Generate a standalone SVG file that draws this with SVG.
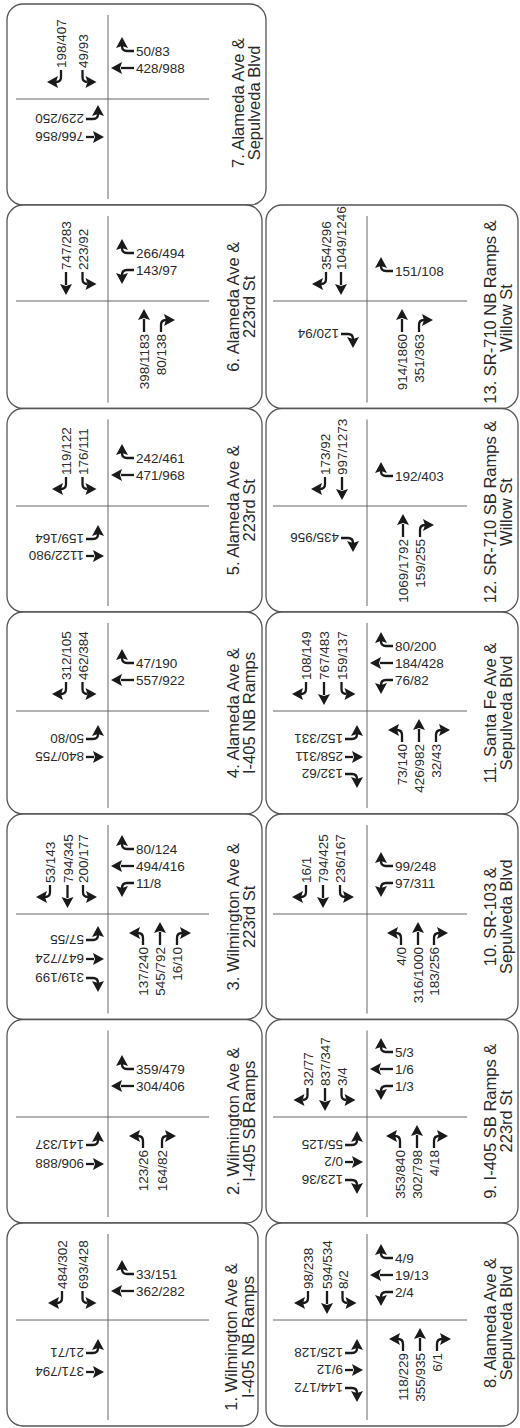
<svg xmlns="http://www.w3.org/2000/svg" xmlns:xlink="http://www.w3.org/1999/xlink" width="520" height="1428" viewBox="0 0 520 1428">
<style>
.pn{fill:#fff;stroke:#555;stroke-width:1.3}
.rd{stroke:#666;stroke-width:1}
.n{font-family:"Liberation Sans",Arial,Helvetica,sans-serif;font-size:13.5px;fill:#2a2a2a}
.ne{text-anchor:end}
.lb{font-family:"Liberation Sans",Arial,Helvetica,sans-serif;font-size:16.5px;fill:#2a2a2a;text-anchor:middle}
.al{stroke:#1a1a1a;stroke-width:2.3;fill:none}
.ah{fill:#1a1a1a}
</style>
<defs>
<g id="th"><path class="al" d="M0,0H13"/><polygon class="ah" points="12,-6 23,0 12,6 14,0"/></g>
<g id="ts"><path class="al" d="M0,0H8"/><polygon class="ah" points="7,-6 18,0 7,6 9,0"/></g>
<g id="tl"><path class="al" d="M0,0H7Q12,0 12,-5"/><polygon class="ah" points="6,-3 12,-14 18,-3 12,-5"/></g>
<g id="tr"><path class="al" d="M0,0H7Q12,0 12,5"/><polygon class="ah" points="6,3 12,14 18,3 12,5"/></g>
</defs>
<rect width="520" height="1428" fill="#fff"/>

<g id="p7">
<rect class="pn" x="7" y="4" width="259" height="201" rx="16"/>
<line class="rd" x1="108" y1="15" x2="108" y2="199"/>
<line class="rd" x1="16" y1="99" x2="209" y2="99"/>
<text class="n" transform="translate(66,68) rotate(-90)">198/407</text>
<use xlink:href="#tr" transform="translate(61,70) rotate(90)"/>
<text class="n" transform="translate(87.5,68) rotate(-90)">49/93</text>
<use xlink:href="#tl" transform="translate(82.5,70) rotate(90)"/>
<text class="n" x="136" y="56">50/83</text>
<use xlink:href="#tr" transform="translate(134,51) rotate(180)"/>
<text class="n" x="136" y="73">428/988</text>
<use xlink:href="#th" transform="translate(134,68) rotate(180)"/>
<text class="n" transform="translate(84,114) rotate(180)">229/250</text>
<use xlink:href="#tl" transform="translate(86,119)"/>
<text class="n" transform="translate(84,132) rotate(180)">766/856</text>
<use xlink:href="#ts" transform="translate(86,137)"/>
<text class="lb" transform="translate(244,103) rotate(-90)">7. Alameda Ave &amp;</text>
<text class="lb" transform="translate(260,103) rotate(-90)">Sepulveda Blvd</text>
</g>

<g id="p6">
<rect class="pn" x="7" y="205" width="255" height="203.5" rx="16"/>
<line class="rd" x1="108" y1="216" x2="108" y2="402.5"/>
<line class="rd" x1="16" y1="301" x2="209" y2="301"/>
<text class="n" transform="translate(71,270) rotate(-90)">747/283</text>
<use xlink:href="#th" transform="translate(66,272) rotate(90)"/>
<text class="n" transform="translate(87.5,270) rotate(-90)">223/92</text>
<use xlink:href="#tl" transform="translate(82.5,272) rotate(90)"/>
<text class="n" x="136" y="258">266/494</text>
<use xlink:href="#tr" transform="translate(134,253) rotate(180)"/>
<text class="n" x="136" y="275">143/97</text>
<use xlink:href="#tl" transform="translate(134,270) rotate(180)"/>
<text class="n ne" transform="translate(149,334) rotate(-90)">398/1183</text>
<use xlink:href="#th" transform="translate(144,332) rotate(-90)"/>
<text class="n ne" transform="translate(166,334) rotate(-90)">80/138</text>
<use xlink:href="#tr" transform="translate(161,332) rotate(-90)"/>
<text class="lb" transform="translate(239,306.75) rotate(-90)">6. Alameda Ave &amp;</text>
<text class="lb" transform="translate(255,306.75) rotate(-90)">223rd St</text>
</g>

<g id="p5">
<rect class="pn" x="7" y="408.5" width="255" height="203.5" rx="16"/>
<line class="rd" x1="108" y1="419.5" x2="108" y2="606"/>
<line class="rd" x1="16" y1="506" x2="209" y2="506"/>
<text class="n" transform="translate(71,475) rotate(-90)">119/122</text>
<use xlink:href="#tr" transform="translate(66,477) rotate(90)"/>
<text class="n" transform="translate(87.5,475) rotate(-90)">176/111</text>
<use xlink:href="#tl" transform="translate(82.5,477) rotate(90)"/>
<text class="n" x="136" y="463">242/461</text>
<use xlink:href="#tr" transform="translate(134,458) rotate(180)"/>
<text class="n" x="136" y="480">471/968</text>
<use xlink:href="#th" transform="translate(134,475) rotate(180)"/>
<text class="n" transform="translate(84,534) rotate(180)">159/164</text>
<use xlink:href="#tl" transform="translate(86,539)"/>
<text class="n" transform="translate(84,551) rotate(180)">1122/980</text>
<use xlink:href="#ts" transform="translate(86,556)"/>
<text class="lb" transform="translate(239,510.25) rotate(-90)">5. Alameda Ave &amp;</text>
<text class="lb" transform="translate(255,510.25) rotate(-90)">223rd St</text>
</g>

<g id="p4">
<rect class="pn" x="7" y="612" width="255" height="202" rx="16"/>
<line class="rd" x1="108" y1="623" x2="108" y2="808"/>
<line class="rd" x1="16" y1="711" x2="209" y2="711"/>
<text class="n" transform="translate(71,680) rotate(-90)">312/105</text>
<use xlink:href="#tr" transform="translate(66,682) rotate(90)"/>
<text class="n" transform="translate(87.5,680) rotate(-90)">462/384</text>
<use xlink:href="#tl" transform="translate(82.5,682) rotate(90)"/>
<text class="n" x="136" y="668">47/190</text>
<use xlink:href="#tr" transform="translate(134,663) rotate(180)"/>
<text class="n" x="136" y="685">557/922</text>
<use xlink:href="#th" transform="translate(134,680) rotate(180)"/>
<text class="n" transform="translate(84,734) rotate(180)">50/80</text>
<use xlink:href="#tl" transform="translate(86,739)"/>
<text class="n" transform="translate(84,752) rotate(180)">840/755</text>
<use xlink:href="#ts" transform="translate(86,757)"/>
<text class="lb" transform="translate(239,713) rotate(-90)">4. Alameda Ave &amp;</text>
<text class="lb" transform="translate(255,713) rotate(-90)">I-405 NB Ramps</text>
</g>

<g id="p3">
<rect class="pn" x="7" y="814" width="255" height="205.5" rx="16"/>
<line class="rd" x1="108" y1="825" x2="108" y2="1013.5"/>
<line class="rd" x1="16" y1="914" x2="209" y2="914"/>
<text class="n" transform="translate(55,883) rotate(-90)">53/143</text>
<use xlink:href="#tr" transform="translate(50,885) rotate(90)"/>
<text class="n" transform="translate(72.5,883) rotate(-90)">794/345</text>
<use xlink:href="#th" transform="translate(67.5,885) rotate(90)"/>
<text class="n" transform="translate(88,883) rotate(-90)">200/177</text>
<use xlink:href="#tl" transform="translate(83,885) rotate(90)"/>
<text class="n" x="136" y="854">80/124</text>
<use xlink:href="#tr" transform="translate(134,849) rotate(180)"/>
<text class="n" x="136" y="871">494/416</text>
<use xlink:href="#th" transform="translate(134,866) rotate(180)"/>
<text class="n" x="136" y="888">11/8</text>
<use xlink:href="#tl" transform="translate(134,883) rotate(180)"/>
<text class="n ne" transform="translate(148,947) rotate(-90)">137/240</text>
<use xlink:href="#tl" transform="translate(143,945) rotate(-90)"/>
<text class="n ne" transform="translate(165,947) rotate(-90)">545/792</text>
<use xlink:href="#th" transform="translate(160,945) rotate(-90)"/>
<text class="n ne" transform="translate(182,947) rotate(-90)">16/10</text>
<use xlink:href="#tr" transform="translate(177,945) rotate(-90)"/>
<text class="n" transform="translate(84,935) rotate(180)">57/55</text>
<use xlink:href="#tl" transform="translate(86,940)"/>
<text class="n" transform="translate(84,954) rotate(180)">647/724</text>
<use xlink:href="#ts" transform="translate(86,959)"/>
<text class="n" transform="translate(84,973) rotate(180)">319/199</text>
<use xlink:href="#tr" transform="translate(86,978)"/>
<text class="lb" transform="translate(239,916.75) rotate(-90)">3. Wilmington Ave &amp;</text>
<text class="lb" transform="translate(255,916.75) rotate(-90)">223rd St</text>
</g>

<g id="p2">
<rect class="pn" x="7" y="1019.5" width="255" height="203.5" rx="16"/>
<line class="rd" x1="108" y1="1030.5" x2="108" y2="1217"/>
<line class="rd" x1="16" y1="1117" x2="209" y2="1117"/>
<text class="n" x="136" y="1074">359/479</text>
<use xlink:href="#tr" transform="translate(134,1069) rotate(180)"/>
<text class="n" x="136" y="1091">304/406</text>
<use xlink:href="#th" transform="translate(134,1086) rotate(180)"/>
<text class="n ne" transform="translate(148,1150) rotate(-90)">123/26</text>
<use xlink:href="#tl" transform="translate(143,1148) rotate(-90)"/>
<text class="n ne" transform="translate(167,1150) rotate(-90)">164/82</text>
<use xlink:href="#tr" transform="translate(162,1148) rotate(-90)"/>
<text class="n" transform="translate(84,1140) rotate(180)">141/337</text>
<use xlink:href="#tl" transform="translate(86,1145)"/>
<text class="n" transform="translate(84,1159) rotate(180)">906/888</text>
<use xlink:href="#ts" transform="translate(86,1164)"/>
<text class="lb" transform="translate(239,1121.25) rotate(-90)">2. Wilmington Ave &amp;</text>
<text class="lb" transform="translate(255,1121.25) rotate(-90)">I-405 SB Ramps</text>
</g>

<g id="p1">
<rect class="pn" x="7" y="1223" width="251" height="203" rx="16"/>
<line class="rd" x1="108" y1="1234" x2="108" y2="1420"/>
<line class="rd" x1="16" y1="1320" x2="209" y2="1320"/>
<text class="n" transform="translate(67,1289) rotate(-90)">484/302</text>
<use xlink:href="#tr" transform="translate(62,1291) rotate(90)"/>
<text class="n" transform="translate(87.5,1289) rotate(-90)">693/428</text>
<use xlink:href="#tl" transform="translate(82.5,1291) rotate(90)"/>
<text class="n" x="136" y="1279">33/151</text>
<use xlink:href="#tr" transform="translate(134,1274) rotate(180)"/>
<text class="n" x="136" y="1296">362/282</text>
<use xlink:href="#th" transform="translate(134,1291) rotate(180)"/>
<text class="n" transform="translate(84,1348) rotate(180)">21/71</text>
<use xlink:href="#tl" transform="translate(86,1353)"/>
<text class="n" transform="translate(84,1367) rotate(180)">371/794</text>
<use xlink:href="#ts" transform="translate(86,1372)"/>
<text class="lb" transform="translate(237,1337) rotate(-90)">1. Wilmington Ave &amp;</text>
<text class="lb" transform="translate(254,1337) rotate(-90)">I-405 NB Ramps</text>
</g>

<g id="p13">
<rect class="pn" x="266" y="205" width="252" height="203.5" rx="16"/>
<line class="rd" x1="367" y1="216" x2="367" y2="402.5"/>
<line class="rd" x1="273" y1="301" x2="467" y2="301"/>
<text class="n" transform="translate(331,270) rotate(-90)">354/296</text>
<use xlink:href="#tr" transform="translate(326,272) rotate(90)"/>
<text class="n" transform="translate(346,270) rotate(-90)">1049/1246</text>
<use xlink:href="#th" transform="translate(341,272) rotate(90)"/>
<text class="n" x="395" y="276">151/108</text>
<use xlink:href="#tr" transform="translate(393,271) rotate(180)"/>
<text class="n ne" transform="translate(407,334) rotate(-90)">914/1860</text>
<use xlink:href="#th" transform="translate(402,332) rotate(-90)"/>
<text class="n ne" transform="translate(424,334) rotate(-90)">351/363</text>
<use xlink:href="#tr" transform="translate(419,332) rotate(-90)"/>
<text class="n" transform="translate(339,329) rotate(180)">120/94</text>
<use xlink:href="#tr" transform="translate(341,334)"/>
<text class="lb" transform="translate(496,312) rotate(-90)">13. SR-710 NB Ramps &amp;</text>
<text class="lb" transform="translate(512,318) rotate(-90)">Willow St</text>
</g>

<g id="p12">
<rect class="pn" x="266" y="408.5" width="252" height="203.5" rx="16"/>
<line class="rd" x1="367" y1="419.5" x2="367" y2="606"/>
<line class="rd" x1="273" y1="506" x2="467" y2="506"/>
<text class="n" transform="translate(330,475) rotate(-90)">173/92</text>
<use xlink:href="#tr" transform="translate(325,477) rotate(90)"/>
<text class="n" transform="translate(347,475) rotate(-90)">997/1273</text>
<use xlink:href="#th" transform="translate(342,477) rotate(90)"/>
<text class="n" x="395" y="481">192/403</text>
<use xlink:href="#tr" transform="translate(393,476) rotate(180)"/>
<text class="n ne" transform="translate(408,539) rotate(-90)">1069/1792</text>
<use xlink:href="#th" transform="translate(403,537) rotate(-90)"/>
<text class="n ne" transform="translate(425,539) rotate(-90)">159/255</text>
<use xlink:href="#tr" transform="translate(420,537) rotate(-90)"/>
<text class="n" transform="translate(339,533) rotate(180)">435/956</text>
<use xlink:href="#tr" transform="translate(341,538)"/>
<text class="lb" transform="translate(496,512) rotate(-90)">12. SR-710 SB Ramps &amp;</text>
<text class="lb" transform="translate(512,512) rotate(-90)">Willow St</text>
</g>

<g id="p11">
<rect class="pn" x="266" y="612" width="252" height="202" rx="16"/>
<line class="rd" x1="367" y1="623" x2="367" y2="808"/>
<line class="rd" x1="273" y1="711" x2="467" y2="711"/>
<text class="n" transform="translate(311,680) rotate(-90)">108/149</text>
<use xlink:href="#tr" transform="translate(306,682) rotate(90)"/>
<text class="n" transform="translate(329,680) rotate(-90)">767/483</text>
<use xlink:href="#th" transform="translate(324,682) rotate(90)"/>
<text class="n" transform="translate(346.5,680) rotate(-90)">159/137</text>
<use xlink:href="#tl" transform="translate(341.5,682) rotate(90)"/>
<text class="n" x="395" y="651">80/200</text>
<use xlink:href="#tr" transform="translate(393,646) rotate(180)"/>
<text class="n" x="395" y="668">184/428</text>
<use xlink:href="#th" transform="translate(393,663) rotate(180)"/>
<text class="n" x="395" y="685">76/82</text>
<use xlink:href="#tl" transform="translate(393,680) rotate(180)"/>
<text class="n ne" transform="translate(407,744) rotate(-90)">73/140</text>
<use xlink:href="#tl" transform="translate(402,742) rotate(-90)"/>
<text class="n ne" transform="translate(424,744) rotate(-90)">426/982</text>
<use xlink:href="#th" transform="translate(419,742) rotate(-90)"/>
<text class="n ne" transform="translate(441,744) rotate(-90)">32/43</text>
<use xlink:href="#tr" transform="translate(436,742) rotate(-90)"/>
<text class="n" transform="translate(343,734) rotate(180)">152/331</text>
<use xlink:href="#tl" transform="translate(345,739)"/>
<text class="n" transform="translate(343,752) rotate(180)">258/311</text>
<use xlink:href="#ts" transform="translate(345,757)"/>
<text class="n" transform="translate(343,769) rotate(180)">132/62</text>
<use xlink:href="#tr" transform="translate(345,774)"/>
<text class="lb" transform="translate(496,713) rotate(-90)">11. Santa Fe Ave &amp;</text>
<text class="lb" transform="translate(512,713) rotate(-90)">Sepulveda Blvd</text>
</g>

<g id="p10">
<rect class="pn" x="266" y="814" width="252" height="205.5" rx="16"/>
<line class="rd" x1="367" y1="825" x2="367" y2="1013.5"/>
<line class="rd" x1="273" y1="914" x2="467" y2="914"/>
<text class="n" transform="translate(311,883) rotate(-90)">16/1</text>
<use xlink:href="#tr" transform="translate(306,885) rotate(90)"/>
<text class="n" transform="translate(328,883) rotate(-90)">794/425</text>
<use xlink:href="#th" transform="translate(323,885) rotate(90)"/>
<text class="n" transform="translate(345,883) rotate(-90)">236/167</text>
<use xlink:href="#tl" transform="translate(340,885) rotate(90)"/>
<text class="n" x="395" y="871">99/248</text>
<use xlink:href="#tr" transform="translate(393,866) rotate(180)"/>
<text class="n" x="395" y="888">97/311</text>
<use xlink:href="#tl" transform="translate(393,883) rotate(180)"/>
<text class="n ne" transform="translate(406,947) rotate(-90)">4/0</text>
<use xlink:href="#tl" transform="translate(401,945) rotate(-90)"/>
<text class="n ne" transform="translate(423,947) rotate(-90)">316/1000</text>
<use xlink:href="#th" transform="translate(418,945) rotate(-90)"/>
<text class="n ne" transform="translate(439,947) rotate(-90)">183/256</text>
<use xlink:href="#tr" transform="translate(434,945) rotate(-90)"/>
<text class="lb" transform="translate(496,916.75) rotate(-90)">10. SR-103 &amp;</text>
<text class="lb" transform="translate(512,916.75) rotate(-90)">Sepulveda Blvd</text>
</g>

<g id="p9">
<rect class="pn" x="266" y="1019.5" width="252" height="203.5" rx="16"/>
<line class="rd" x1="367" y1="1030.5" x2="367" y2="1217"/>
<line class="rd" x1="273" y1="1117" x2="467" y2="1117"/>
<text class="n" transform="translate(312.5,1086) rotate(-90)">32/77</text>
<use xlink:href="#tr" transform="translate(307.5,1088) rotate(90)"/>
<text class="n" transform="translate(330,1086) rotate(-90)">837/347</text>
<use xlink:href="#th" transform="translate(325,1088) rotate(90)"/>
<text class="n" transform="translate(346.5,1086) rotate(-90)">3/4</text>
<use xlink:href="#tl" transform="translate(341.5,1088) rotate(90)"/>
<text class="n" x="395" y="1057">5/3</text>
<use xlink:href="#tr" transform="translate(393,1052) rotate(180)"/>
<text class="n" x="395" y="1074">1/6</text>
<use xlink:href="#th" transform="translate(393,1069) rotate(180)"/>
<text class="n" x="395" y="1091">1/3</text>
<use xlink:href="#tl" transform="translate(393,1086) rotate(180)"/>
<text class="n ne" transform="translate(405,1150) rotate(-90)">353/840</text>
<use xlink:href="#tl" transform="translate(400,1148) rotate(-90)"/>
<text class="n ne" transform="translate(422,1150) rotate(-90)">302/798</text>
<use xlink:href="#th" transform="translate(417,1148) rotate(-90)"/>
<text class="n ne" transform="translate(439,1150) rotate(-90)">4/18</text>
<use xlink:href="#tr" transform="translate(434,1148) rotate(-90)"/>
<text class="n" transform="translate(343,1140) rotate(180)">55/125</text>
<use xlink:href="#tl" transform="translate(345,1145)"/>
<text class="n" transform="translate(343,1157) rotate(180)">0/2</text>
<use xlink:href="#ts" transform="translate(345,1162)"/>
<text class="n" transform="translate(343,1175) rotate(180)">123/36</text>
<use xlink:href="#tr" transform="translate(345,1180)"/>
<text class="lb" transform="translate(496,1121.25) rotate(-90)">9. I-405 SB Ramps &amp;</text>
<text class="lb" transform="translate(512,1121.25) rotate(-90)">223rd St</text>
</g>

<g id="p8">
<rect class="pn" x="266" y="1223" width="252" height="203" rx="16"/>
<line class="rd" x1="367" y1="1234" x2="367" y2="1420"/>
<line class="rd" x1="273" y1="1320" x2="467" y2="1320"/>
<text class="n" transform="translate(313,1289) rotate(-90)">98/238</text>
<use xlink:href="#tr" transform="translate(308,1291) rotate(90)"/>
<text class="n" transform="translate(332,1289) rotate(-90)">594/534</text>
<use xlink:href="#th" transform="translate(327,1291) rotate(90)"/>
<text class="n" transform="translate(347.5,1289) rotate(-90)">8/2</text>
<use xlink:href="#tl" transform="translate(342.5,1291) rotate(90)"/>
<text class="n" x="395" y="1263">4/9</text>
<use xlink:href="#tr" transform="translate(393,1258) rotate(180)"/>
<text class="n" x="395" y="1280">19/13</text>
<use xlink:href="#th" transform="translate(393,1275) rotate(180)"/>
<text class="n" x="395" y="1297">2/4</text>
<use xlink:href="#tl" transform="translate(393,1292) rotate(180)"/>
<text class="n ne" transform="translate(408,1353) rotate(-90)">118/229</text>
<use xlink:href="#tl" transform="translate(403,1351) rotate(-90)"/>
<text class="n ne" transform="translate(425,1353) rotate(-90)">355/935</text>
<use xlink:href="#th" transform="translate(420,1351) rotate(-90)"/>
<text class="n ne" transform="translate(442,1353) rotate(-90)">6/1</text>
<use xlink:href="#tr" transform="translate(437,1351) rotate(-90)"/>
<text class="n" transform="translate(343,1348) rotate(180)">125/128</text>
<use xlink:href="#tl" transform="translate(345,1353)"/>
<text class="n" transform="translate(343,1365) rotate(180)">9/12</text>
<use xlink:href="#ts" transform="translate(345,1370)"/>
<text class="n" transform="translate(343,1383) rotate(180)">144/172</text>
<use xlink:href="#tr" transform="translate(345,1388)"/>
<text class="lb" transform="translate(496,1323) rotate(-90)">8. Alameda Ave &amp;</text>
<text class="lb" transform="translate(512,1323) rotate(-90)">Sepulveda Blvd</text>
</g>
</svg>
